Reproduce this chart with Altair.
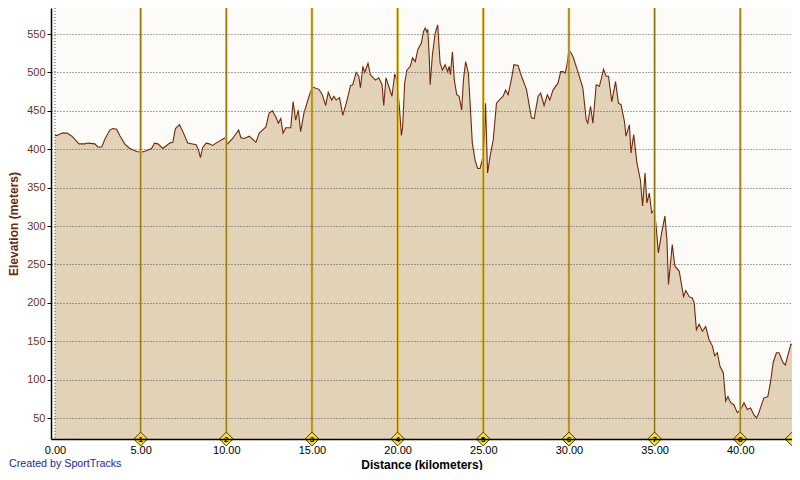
import altair as alt
import pandas as pd

# Elevation profile (distance km, elevation m)
distance_km = [
    0.00, 0.12, 0.41, 0.70, 0.99, 1.40, 1.74, 1.92, 2.33, 2.50, 2.73, 2.91, 3.20, 3.37, 3.60, 3.78,
    4.07, 4.36, 4.77, 5.04, 5.33, 5.64, 5.81, 6.01, 6.30, 6.69, 6.88, 7.03, 7.27, 7.50, 7.75, 8.24,
    8.39, 8.49, 8.62, 8.82, 9.01, 9.20, 9.40, 9.78, 9.94, 10.08, 10.37, 10.72, 10.85, 11.05, 11.34,
    11.73, 11.92, 12.11, 12.31, 12.50, 12.69, 12.89, 13.04, 13.18, 13.31, 13.47, 13.76, 13.90, 14.05,
    14.20, 14.34, 14.53, 14.83, 15.02, 15.41, 15.60, 15.80, 15.95, 16.15, 16.28, 16.41, 16.61, 16.80,
    17.05, 17.25, 17.38, 17.58, 17.73, 17.83, 17.97, 18.08, 18.27, 18.41, 18.70, 18.90, 19.09, 19.19,
    19.32, 19.48, 19.67, 19.83, 19.96, 20.10, 20.22, 20.29, 20.41, 20.54, 20.74, 20.87, 21.03, 21.18,
    21.38, 21.51, 21.61, 21.70, 21.76, 21.84, 21.90, 22.03, 22.19, 22.34, 22.48, 22.62, 22.77, 22.92,
    23.01, 23.08, 23.20, 23.31, 23.45, 23.59, 23.74, 23.84, 23.97, 24.13, 24.23, 24.36, 24.52, 24.67,
    24.81, 24.94, 25.06, 25.13, 25.25, 25.39, 25.58, 25.77, 25.97, 26.16, 26.30, 26.45, 26.65, 26.79,
    27.03, 27.23, 27.52, 27.81, 27.97, 28.20, 28.35, 28.55, 28.74, 28.88, 29.07, 29.36, 29.52, 29.65,
    29.79, 29.90, 30.00, 30.23, 30.52, 30.81, 31.01, 31.10, 31.26, 31.40, 31.59, 31.78, 32.02, 32.17,
    32.31, 32.50, 32.72, 32.89, 33.04, 33.24, 33.33, 33.53, 33.62, 33.78, 33.97, 34.17, 34.30, 34.44,
    34.55, 34.69, 34.83, 34.98, 35.08, 35.22, 35.41, 35.60, 35.72, 35.81, 36.03, 36.18, 36.44, 36.69,
    36.82, 37.02, 37.21, 37.31, 37.44, 37.60, 37.79, 37.98, 38.18, 38.37, 38.51, 38.66, 38.82, 39.01,
    39.15, 39.28, 39.44, 39.63, 39.83, 40.02, 40.22, 40.41, 40.60, 40.80, 40.95, 41.09, 41.28, 41.38,
    41.61, 41.76, 41.92, 42.11, 42.26, 42.50, 42.63, 42.77, 42.95, 43.02,
]
elevation_m = [
    418, 418, 421, 421, 417, 407, 407, 408, 407, 403, 403, 413, 425, 427, 426, 418,
    407, 401, 397, 396, 398, 401, 408, 407, 401, 408, 409, 427, 432, 421, 408, 406,
    398, 389, 402, 408, 407, 405, 408, 413, 415, 407, 414, 425, 415, 414, 417,
    409, 421, 425, 429, 447, 450, 442, 434, 440, 421, 428, 428, 462, 438,
    451, 423, 447, 469, 481, 478, 471, 457, 474, 464, 469, 464, 467, 444,
    464, 483, 484, 500, 495, 480, 508, 500, 512, 497, 490, 493, 484, 457,
    493, 482, 469, 498, 490, 456, 418, 428, 486, 503, 508, 519, 514, 530,
    538, 553, 558, 553, 556, 523, 484, 523, 551, 562, 512, 503, 510, 501,
    508, 497, 527, 490, 471, 469, 451, 490, 514, 499, 460, 408, 386, 375,
    375, 386, 412, 460, 369, 390, 412, 460, 465, 469, 477, 471, 492, 510,
    509, 495, 478, 441, 440, 469, 473, 457, 471, 464, 477, 486, 501, 501,
    499, 512, 530, 521, 501, 480, 438, 434, 456, 434, 484, 482, 504, 495,
    495, 462, 488, 460, 458, 436, 417, 432, 395, 419, 382, 360, 326, 369,
    330, 343, 317, 321, 302, 265, 291, 313, 282, 224, 276, 248, 241, 208,
    216, 208, 206, 200, 165, 172, 163, 169, 152, 144, 131, 135, 117, 109,
    72, 78, 70, 67, 57, 61, 70, 61, 63, 54, 50, 57, 70, 76,
    78, 96, 122, 135, 135, 122, 119, 131, 146, 146,
]

# Distance markers (every 5 km, plus the end of the track, whose number is cut off)
marker_km = [5, 10, 15, 20, 25, 30, 35, 40, 43.02]
marker_label = ["1", "2", "3", "4", "5", "6", "7", "8", ""]
gold_lines_km = [5, 10, 15, 20, 25, 30, 35, 40]

y_ticks = [50, 100, 150, 200, 250, 300, 350, 400, 450, 500, 550]
x_ticks = [0, 5, 10, 15, 20, 25, 30, 35, 40]

X_DOMAIN = [-0.233, 43.02]
Y_DOMAIN = [22.7, 583.9]

W, H = 741, 431
FONT = "Liberation Sans"

profile = pd.DataFrame({"km": distance_km, "elev": elevation_m})
markers = pd.DataFrame({"km": marker_km, "label": marker_label})
gold = pd.DataFrame({"km": gold_lines_km})

xscale = alt.Scale(domain=X_DOMAIN, nice=False, zero=False)
yscale = alt.Scale(domain=Y_DOMAIN, nice=False, zero=False)

x_axis = alt.Axis(
    values=x_ticks, format=".2f", title="Distance (kilometers)", grid=False,
    ticks=False, domainColor="#000000", domainWidth=1.5,
    labelColor="#000000", labelFont=FONT, labelFontSize=11, labelPadding=5,
    titleFont=FONT, titleFontSize=12, titleFontWeight="bold", titleColor="#000000",
    titlePadding=4, zindex=1,
)
y_axis = alt.Axis(
    values=y_ticks, title="Elevation (meters)", grid=True,
    gridColor="#555555", gridDash=[1, 2], gridWidth=1,
    ticks=True, tickSize=4, tickColor="#000000", domainColor="#000000", domainWidth=1.5,
    labelColor="#6B3414", labelFont=FONT, labelFontSize=11, labelPadding=2,
    titleFont=FONT, titleFontSize=12, titleFontWeight="bold", titleColor="#6B2A0A",
    titlePadding=6, zindex=1,
)

area = alt.Chart(profile).mark_area(
    color="#E2D2B8", opacity=1, clip=True,
    line={"color": "#73280A", "strokeWidth": 1.1},
).encode(
    x=alt.X("km:Q", scale=xscale, axis=x_axis),
    y=alt.Y("elev:Q", scale=yscale, axis=y_axis),
)

zero_line = alt.Chart(pd.DataFrame({"km": [0]})).mark_rule(
    color="#555555", strokeDash=[1, 2], strokeWidth=1
).encode(x=alt.X("km:Q", scale=xscale))

gold_wide = alt.Chart(gold).mark_rule(color="#E2C04A", strokeWidth=2.6).encode(
    x=alt.X("km:Q", scale=xscale)
)
gold_core = alt.Chart(gold).mark_rule(color="#8C6E00", strokeWidth=1).encode(
    x=alt.X("km:Q", scale=xscale)
)

diamonds = alt.Chart(markers).mark_point(
    shape="diamond", filled=True, size=190, color="#F2DC4A",
    stroke="#4A3C00", strokeWidth=1, opacity=1,
).encode(x=alt.X("km:Q", scale=xscale), y=alt.value(H))

diamond_text = alt.Chart(markers).mark_text(
    font=FONT, fontSize=8, fontWeight="bold", color="#000000", dy=0.5
).encode(x=alt.X("km:Q", scale=xscale), y=alt.value(H), text="label:N")

credit = alt.Chart(pd.DataFrame({"t": ["Created by SportTracks"]})).mark_text(
    font=FONT, fontSize=10.7, color="#1E1E9E", align="left", baseline="alphabetic"
).encode(x=alt.value(-42), y=alt.value(H + 28), text="t:N")

chart = alt.layer(
    area, zero_line, gold_wide, gold_core, diamonds, diamond_text, credit
).properties(
    width=W, height=H,
    autosize=alt.AutoSizeParams(type="none"),
    padding={"left": 43, "top": 0, "right": 0, "bottom": 31},
    background="#FFFFFF",
).configure_view(
    fill="#FCFBF8", stroke=None
)

chart.save("out.html", embed_options={"renderer": "svg", "actions": False})
